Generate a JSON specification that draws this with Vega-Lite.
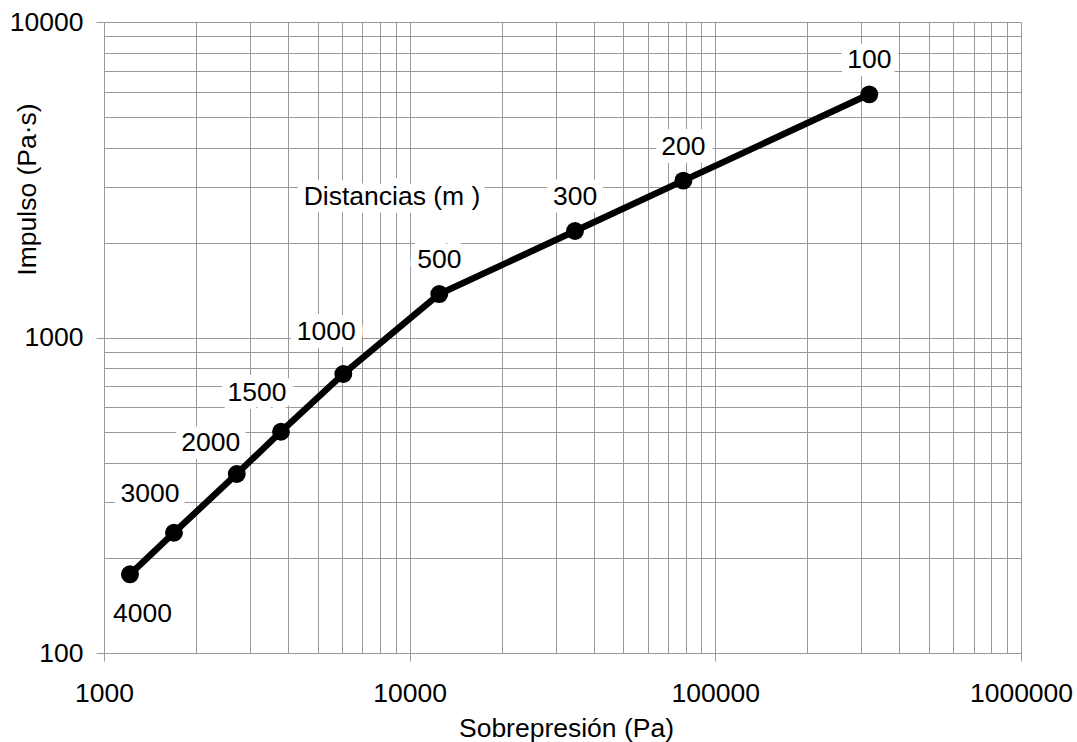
{
  "$schema": "https://vega.github.io/schema/vega-lite/v6.json",
  "width": 917,
  "height": 631,
  "autosize": "none",
  "padding": {"left": 104, "top": 22, "right": 56, "bottom": 89},
  "background": "white",
  "config": {
    "font": "Liberation Sans",
    "view": {"stroke": null},
    "axis": {
      "grid": true,
      "gridColor": "#999999",
      "gridOpacity": 1,
      "gridWidth": 1,
      "domainColor": "#999999",
      "tickColor": "#999999",
      "tickSize": 8,
      "labelFontSize": 26.5,
      "labelColor": "black",
      "labelFlush": false,
      "labelOverlap": false,
      "titleFontSize": 26.5,
      "titleFontWeight": "normal",
      "titleColor": "black"
    }
  },
  "data": {
    "values": [
      {"distancia": 4000, "sobrepresion": 1216, "impulso": 177.6},
      {"distancia": 3000, "sobrepresion": 1694, "impulso": 240.6},
      {"distancia": 2000, "sobrepresion": 2718, "impulso": 369.3},
      {"distancia": 1500, "sobrepresion": 3794, "impulso": 502.8},
      {"distancia": 1000, "sobrepresion": 6066, "impulso": 766.2},
      {"distancia": 500, "sobrepresion": 12500, "impulso": 1373},
      {"distancia": 300, "sobrepresion": 34750, "impulso": 2175},
      {"distancia": 200, "sobrepresion": 78590, "impulso": 3141},
      {"distancia": 100, "sobrepresion": 318900, "impulso": 5899}
    ]
  },
  "encoding": {
    "x": {
      "field": "sobrepresion",
      "type": "quantitative",
      "scale": {"type": "log", "domain": [1000, 1000000], "nice": false},
      "axis": {
        "title": "Sobrepresión (Pa)",
        "values": [1000, 2000, 3000, 4000, 5000, 6000, 7000, 8000, 9000, 10000, 20000, 30000, 40000, 50000, 60000, 70000, 80000, 90000, 100000, 200000, 300000, 400000, 500000, 600000, 700000, 800000, 900000, 1000000],
        "format": "d",
        "labelExpr": "indexof([1000,10000,100000,1000000], datum.value) >= 0 ? datum.label : ''",
        "tickOpacity": {"condition": {"test": "indexof([1000,10000,100000,1000000], datum.value) >= 0", "value": 1}, "value": 0},
        "labelPadding": 19,
        "titleBaseline": "alphabetic",
        "titleY": 83.5,
        "titleX": 462
      }
    },
    "y": {
      "field": "impulso",
      "type": "quantitative",
      "scale": {"type": "log", "domain": [100, 10000], "nice": false},
      "axis": {
        "title": "Impulso (Pa·s)",
        "values": [100, 200, 300, 400, 500, 600, 700, 800, 900, 1000, 2000, 3000, 4000, 5000, 6000, 7000, 8000, 9000, 10000],
        "format": "d",
        "labelExpr": "indexof([100,1000,10000], datum.value) >= 0 ? datum.label : ''",
        "tickOpacity": {"condition": {"test": "indexof([100,1000,10000], datum.value) >= 0", "value": 1}, "value": 0},
        "labelPadding": 13,
        "titleAngle": -90,
        "titleBaseline": "alphabetic",
        "titleAlign": "center",
        "titleX": -69,
        "titleY": 167
      }
    }
  },
  "layer": [
    {"mark": {"type": "line", "color": "black", "strokeWidth": 6.5}},
    {"mark": {"type": "point", "filled": true, "color": "black", "size": 320, "opacity": 1}},
    {
      "transform": [{"filter": {"field": "distancia", "oneOf": [3000, 1500]}}],
      "encoding": {"text": {"field": "distancia", "type": "quantitative", "format": "d"}},
      "layer": [
        {"mark": {"type": "text", "fontSize": 26.5, "baseline": "middle", "dx": -24, "dy": -38.5, "fill": "white", "stroke": "white", "strokeWidth": 16, "strokeJoin": "round"}},
        {"mark": {"type": "text", "fontSize": 26.5, "baseline": "middle", "dx": -24, "dy": -38.5, "color": "black"}}
      ]
    },
    {
      "transform": [{"filter": {"field": "distancia", "oneOf": [1000]}}],
      "encoding": {"text": {"field": "distancia", "type": "quantitative", "format": "d"}},
      "layer": [
        {"mark": {"type": "text", "fontSize": 26.5, "baseline": "middle", "dx": -17, "dy": -42, "fill": "white", "stroke": "white", "strokeWidth": 16, "strokeJoin": "round"}},
        {"mark": {"type": "text", "fontSize": 26.5, "baseline": "middle", "dx": -17, "dy": -42, "color": "black"}}
      ]
    },
    {
      "transform": [{"filter": {"field": "distancia", "oneOf": [2000]}}],
      "encoding": {"text": {"field": "distancia", "type": "quantitative", "format": "d"}},
      "layer": [
        {"mark": {"type": "text", "fontSize": 26.5, "baseline": "middle", "dx": -26, "dy": -30.5, "fill": "white", "stroke": "white", "strokeWidth": 16, "strokeJoin": "round"}},
        {"mark": {"type": "text", "fontSize": 26.5, "baseline": "middle", "dx": -26, "dy": -30.5, "color": "black"}}
      ]
    },
    {
      "transform": [{"filter": {"field": "distancia", "oneOf": [500, 300, 200, 100]}}],
      "encoding": {"text": {"field": "distancia", "type": "quantitative", "format": "d"}},
      "layer": [
        {"mark": {"type": "text", "fontSize": 26.5, "baseline": "middle", "dx": 0, "dy": -34, "fill": "white", "stroke": "white", "strokeWidth": 16, "strokeJoin": "round"}},
        {"mark": {"type": "text", "fontSize": 26.5, "baseline": "middle", "dx": 0, "dy": -34, "color": "black"}}
      ]
    },
    {
      "transform": [{"filter": {"field": "distancia", "oneOf": [4000]}}],
      "encoding": {"text": {"field": "distancia", "type": "quantitative", "format": "d"}},
      "layer": [
        {"mark": {"type": "text", "fontSize": 26.5, "baseline": "middle", "dx": 12.5, "dy": 39.5, "fill": "white", "stroke": "white", "strokeWidth": 16, "strokeJoin": "round"}},
        {"mark": {"type": "text", "fontSize": 26.5, "baseline": "middle", "dx": 12.5, "dy": 39.5, "color": "black"}}
      ]
    },
    {
      "data": {"values": [{"sobrepresion": 8754, "impulso": 2790, "texto": "Distancias (m )"}]},
      "encoding": {"text": {"field": "texto", "type": "nominal"}},
      "layer": [
        {"mark": {"type": "text", "fontSize": 26.5, "baseline": "middle", "fill": "white", "stroke": "white", "strokeWidth": 16, "strokeJoin": "round"}},
        {"mark": {"type": "text", "fontSize": 26.5, "baseline": "middle", "color": "black"}}
      ]
    }
  ]
}
